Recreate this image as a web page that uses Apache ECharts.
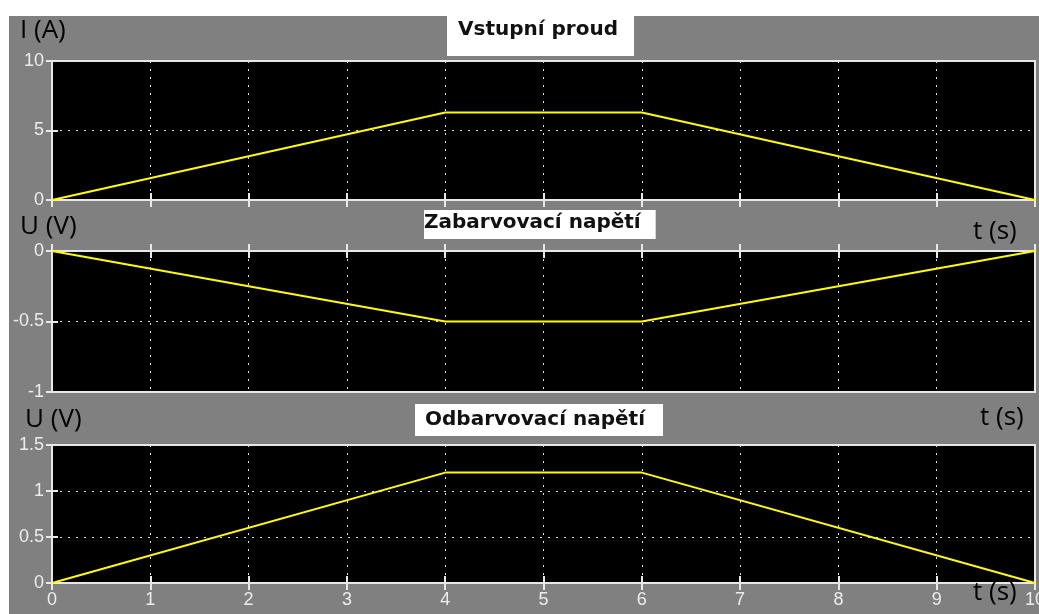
<!DOCTYPE html>
<html>
<head>
<meta charset="utf-8">
<script src="https://cdn.jsdelivr.net/npm/echarts@6/dist/echarts.min.js"></script>
<style>
html,body{margin:0;padding:0;background:#fff;width:1039px;height:614px;overflow:hidden;}
#c{position:absolute;left:9px;top:16px;width:1030px;height:598px;background:#808080;}
</style>
</head>
<body>
<div id="c"></div>
<script>
// ---- data ----
const timePoints = [0, 4, 6, 10];
const currentValues = [0, 6.3, 6.3, 0];          // Vstupní proud, I (A)
const colorVoltValues = [0, -0.5, -0.5, 0];     // Zabarvovací napětí, U (V)
const bleachVoltValues = [0, 1.2, 1.2, 0];      // Odbarvovací napětí, U (V)
const panelTitles = ['Vstupní proud', 'Zabarvovací napětí', 'Odbarvovací napětí'];
const yAxisNames = ['I (A)', 'U (V)', 'U (V)'];
const xAxisName = 't (s)';
const yRanges = [[0, 10, 5], [-1, 0, 0.5], [0, 1.5, 0.5]];
const xRange = [0, 10, 1];

const series1 = timePoints.map((t, i) => [t, currentValues[i]]);
const series2 = timePoints.map((t, i) => [t, colorVoltValues[i]]);
const series3 = timePoints.map((t, i) => [t, bleachVoltValues[i]]);

const grids = [
  {left: 43, top: 45, width: 983, height: 139},
  {left: 43, top: 235, width: 983, height: 141},
  {left: 43, top: 429, width: 983, height: 138}
].map(g => Object.assign(g, {show: true, backgroundColor: '#000', borderColor: '#e8e8e8', borderWidth: 2, containLabel: false, outerBoundsMode: 'none'}));

const tickFont = {color: '#ececec', fontFamily: 'Liberation Sans', fontSize: 18};
const dotted = {color: '#e0e0e0', width: 1, type: [2, 6]};

const xAxes = [], yAxes = [];
for (let i = 0; i < 3; i++) {
  xAxes.push({
    type: 'value', gridIndex: i, min: xRange[0], max: xRange[1], interval: xRange[2],
    axisLine: {show: true, lineStyle: {color: '#e8e8e8', width: 2}},
    axisTick: {show: true, inside: true, length: 7, lineStyle: {color: '#e8e8e8', width: 2}},
    axisLabel: Object.assign({show: i === 2, margin: 8, hideOverlap: false}, tickFont),
    splitLine: {show: true, lineStyle: dotted}
  });
  xAxes.push({
    type: 'value', gridIndex: i, position: 'top', min: xRange[0], max: xRange[1], interval: xRange[2],
    axisLine: {show: false},
    axisTick: {show: true, inside: true, length: 7, lineStyle: {color: '#e8e8e8', width: 2}},
    axisLabel: {show: false}, splitLine: {show: false}
  });
  yAxes.push({
    type: 'value', gridIndex: i, min: yRanges[i][0], max: yRanges[i][1], interval: yRanges[i][2],
    axisLine: {show: true, lineStyle: {color: '#e8e8e8', width: 2}},
    axisTick: {show: true, inside: true, length: 6, lineStyle: {color: '#e8e8e8', width: 2}},
    axisLabel: Object.assign({show: true, margin: 8}, tickFont),
    splitLine: {show: true, lineStyle: dotted}
  });
  yAxes.push({
    type: 'value', gridIndex: i, position: 'right', min: yRanges[i][0], max: yRanges[i][1], interval: yRanges[i][2],
    axisLine: {show: false},
    axisTick: {show: true, inside: true, length: 6, lineStyle: {color: '#e8e8e8', width: 2}},
    axisLabel: {show: false}, splitLine: {show: false}
  });
}

const titleFont = {fontFamily: 'DejaVu Sans', fontWeight: 'bold', fontSize: 20, lineHeight: 20, color: '#111'};
const labelFont = {fontFamily: 'Open Sans', fontWeight: 'normal', fontSize: 26, lineHeight: 26, color: '#000'};

const titles = [
  {text: panelTitles[0], left: 438, top: 0, padding: [4, 16, 16, 11], backgroundColor: '#fff', textStyle: titleFont},
  {text: panelTitles[1], left: 415, top: 194, padding: [3, 15, 6, 0], backgroundColor: '#fff', textStyle: titleFont},
  {text: panelTitles[2], left: 406, top: 388, padding: [6, 18, 6, 10], backgroundColor: '#fff', textStyle: titleFont},
  {text: yAxisNames[0], left: 11, top: 2, padding: 0, textStyle: labelFont},
  {text: yAxisNames[1], left: 11, top: 198, padding: 0, textStyle: labelFont},
  {text: yAxisNames[2], left: 16, top: 391, padding: 0, textStyle: labelFont},
  {text: xAxisName, left: 964, top: 203, padding: 0, textStyle: labelFont},
  {text: xAxisName, left: 971, top: 389, padding: 0, textStyle: labelFont},
  {text: xAxisName, left: 964, top: 564, padding: 0, textStyle: labelFont}
];

const lineStyle = {color: '#ffff00', width: 2};
const chart = echarts.init(document.getElementById('c'), null, {renderer: 'canvas'});
chart.setOption({
  animation: false,
  backgroundColor: '#808080',
  title: titles,
  grid: grids,
  xAxis: xAxes,
  yAxis: yAxes,
  series: [
    {type: 'line', xAxisIndex: 0, yAxisIndex: 0, data: series1, showSymbol: false, lineStyle: lineStyle, z: 5},
    {type: 'line', xAxisIndex: 2, yAxisIndex: 2, data: series2, showSymbol: false, lineStyle: lineStyle, z: 5},
    {type: 'line', xAxisIndex: 4, yAxisIndex: 4, data: series3, showSymbol: false, lineStyle: lineStyle, z: 5}
  ]
});
</script>
</body>
</html>
